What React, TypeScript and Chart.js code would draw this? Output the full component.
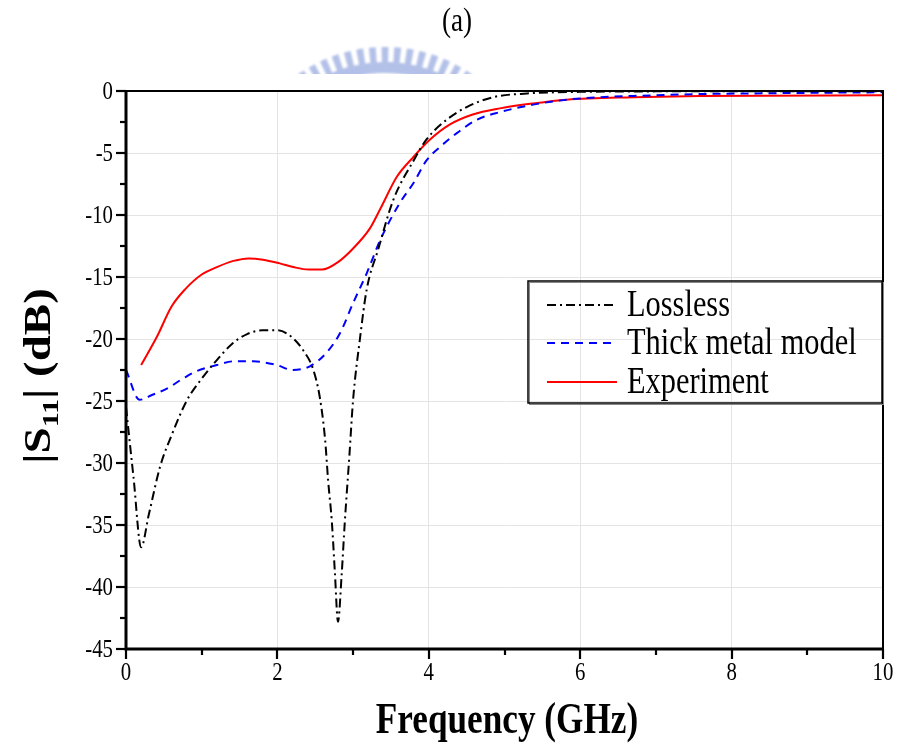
import React, { useEffect, useRef } from "react";
import { Chart, registerables } from "chart.js";

Chart.register(...registerables);

const seriesLabels = ["Lossless", "Thick metal model", "Experiment"];

const losslessF = [0, 0.1, 0.2, 0.3, 0.45, 0.6, 0.8, 1.0, 1.2, 1.4, 1.6, 1.8, 2.0, 2.2, 2.35, 2.47, 2.56, 2.63, 2.67, 2.72, 2.76, 2.8, 2.85, 2.89, 2.95, 3.0, 3.09, 3.18, 3.33, 3.53, 3.8, 3.97, 4.24, 4.5, 4.85, 5.3, 6.0, 7.0, 8.0, 10.0];
const losslessDb = [-25.5, -31.2, -36.8, -34.2, -30.3, -27.8, -25.0, -23.2, -21.7, -20.4, -19.6, -19.3, -19.3, -19.9, -21.0, -22.4, -24.7, -28.1, -31.4, -34.8, -38.9, -42.8, -38.9, -34.8, -29.5, -24.9, -20.0, -16.0, -12.8, -8.8, -5.6, -3.9, -2.3, -1.3, -0.5, -0.2, -0.07, -0.03, -0.02, -0.02];

const thickF = [0, 0.18, 0.35, 0.54, 0.75, 0.93, 1.2, 1.42, 1.68, 1.99, 2.2, 2.43, 2.65, 2.83, 3.0, 3.18, 3.36, 3.62, 3.8, 3.97, 4.15, 4.37, 4.64, 4.94, 5.38, 5.82, 6.26, 6.7, 7.58, 8.5, 10.0];
const thickDb = [-22.5, -24.9, -24.5, -24.0, -23.2, -22.6, -22.1, -21.8, -21.8, -22.1, -22.5, -22.2, -21.1, -19.5, -17.1, -14.7, -12.0, -9.0, -7.4, -5.6, -4.5, -3.4, -2.3, -1.7, -1.1, -0.7, -0.5, -0.4, -0.25, -0.18, -0.1];

const expF = [0.2, 0.41, 0.6, 0.78, 1.0, 1.2, 1.42, 1.62, 1.81, 2.03, 2.21, 2.41, 2.59, 2.8, 3.0, 3.22, 3.36, 3.58, 3.8, 4.02, 4.28, 4.58, 4.94, 5.38, 5.82, 6.7, 7.58, 10.0];
const expDb = [-22.1, -19.8, -17.4, -16.0, -14.8, -14.2, -13.7, -13.5, -13.6, -13.9, -14.2, -14.4, -14.4, -13.8, -12.7, -11.1, -9.5, -6.9, -5.3, -3.9, -2.7, -1.9, -1.4, -1.0, -0.7, -0.5, -0.4, -0.35];

const xMajorTicks = [0, 2, 4, 6, 8, 10];
const xMinorTicks = [1, 3, 5, 7, 9];
const yMajorTicks = [0, -5, -10, -15, -20, -25, -30, -35, -40, -45];
const yMinorTicks = [-2.5, -7.5, -12.5, -17.5, -22.5, -27.5, -32.5, -37.5, -42.5];

const chartTitle = "(a)";
const xTitle = "Frequency (GHz)";

const SERIF = "'Liberation Serif', 'Times New Roman', serif";
const SX = 0.8;

function toPoints(xs: number[], ys: number[]) {
  return xs.map((x, i) => ({ x, y: ys[i] }));
}

function drawText(ctx: CanvasRenderingContext2D, text: string, x: number, y: number, font: string, align: CanvasTextAlign, sx = SX) {
  ctx.save();
  ctx.translate(x, y);
  ctx.scale(sx, 1);
  ctx.font = font;
  ctx.textAlign = align;
  ctx.textBaseline = "middle";
  ctx.fillStyle = "#000";
  ctx.fillText(text, 0, 0);
  ctx.restore();
}

const styles = [
  { color: "#000000", dash: [9, 4, 2, 4] },
  { color: "#0000ff", dash: [8, 6] },
  { color: "#ff0000", dash: [] as number[] },
];

const decorPlugin = {
  id: "decor",
  beforeDraw(chart: any) {
    const ctx: CanvasRenderingContext2D = chart.ctx;
    // watermark logo (faint)
    ctx.save();
    ctx.beginPath();
    ctx.rect(280, 30, 220, 44);
    ctx.clip();
    (ctx as any).filter = "blur(1px)";
    const cx = 385, cy = 199;
    ctx.fillStyle = "#b3c0e8";
    ctx.beginPath();
    ctx.arc(cx, cy, 137, Math.PI * 1.2, Math.PI * 1.8);
    ctx.arc(cx, cy, 126, Math.PI * 1.8, Math.PI * 1.2, true);
    ctx.closePath();
    ctx.fill();
    for (let i = -7; i <= 7; i++) {
      const a = -Math.PI / 2 + i * (4.8 * Math.PI / 180);
      const w = 2.6 * Math.PI / 180;
      ctx.beginPath();
      ctx.arc(cx, cy, 152, a - w / 2, a + w / 2);
      ctx.arc(cx, cy, 134, a + w / 2, a - w / 2, true);
      ctx.closePath();
      ctx.fill();
    }
    ctx.restore();
  },
  afterDraw(chart: any) {
    const ctx: CanvasRenderingContext2D = chart.ctx;
    const xs = chart.scales.x;
    const ys = chart.scales.y;
    const a = chart.chartArea;
    ctx.save();
    ctx.strokeStyle = "#000";
    ctx.lineCap = "butt";
    // frame
    ctx.lineWidth = 2;
    ctx.beginPath();
    ctx.moveTo(a.left, a.top);
    ctx.lineTo(a.right, a.top);
    ctx.lineTo(a.right, a.bottom);
    ctx.stroke();
    ctx.lineWidth = 3;
    ctx.beginPath();
    ctx.moveTo(a.left, a.top - 1);
    ctx.lineTo(a.left, a.bottom);
    ctx.lineTo(a.right + 1, a.bottom);
    ctx.stroke();
    // ticks
    ctx.lineWidth = 2.2;
    for (const v of yMajorTicks) {
      const p = Math.round(ys.getPixelForValue(v));
      ctx.beginPath(); ctx.moveTo(a.left, p); ctx.lineTo(a.left - 10, p); ctx.stroke();
    }
    for (const v of yMinorTicks) {
      const p = Math.round(ys.getPixelForValue(v));
      ctx.beginPath(); ctx.moveTo(a.left, p); ctx.lineTo(a.left - 6, p); ctx.stroke();
    }
    for (const v of xMajorTicks) {
      const p = Math.round(xs.getPixelForValue(v));
      ctx.beginPath(); ctx.moveTo(p, a.bottom); ctx.lineTo(p, a.bottom + 10); ctx.stroke();
    }
    for (const v of xMinorTicks) {
      const p = Math.round(xs.getPixelForValue(v));
      ctx.beginPath(); ctx.moveTo(p, a.bottom); ctx.lineTo(p, a.bottom + 6); ctx.stroke();
    }
    ctx.restore();

    // tick labels
    const tickFont = `26px ${SERIF}`;
    for (const v of yMajorTicks) {
      drawText(ctx, String(v), a.left - 13, ys.getPixelForValue(v) + 1, tickFont, "right");
    }
    for (const v of xMajorTicks) {
      drawText(ctx, String(v), xs.getPixelForValue(v), a.bottom + 24, tickFont, "center");
    }

    // titles
    drawText(ctx, chartTitle, 457, 22, `34px ${SERIF}`, "center");
    drawText(ctx, xTitle, 507, 722, `bold 44px ${SERIF}`, "center");

    // y title with subscript, rotated
    ctx.save();
    ctx.translate(38, 376);
    ctx.rotate(-Math.PI / 2);
    ctx.scale(1, SX);
    ctx.fillStyle = "#000";
    ctx.textBaseline = "alphabetic";
    ctx.textAlign = "left";
    const big = `bold 47px ${SERIF}`;
    const small = `bold 30px ${SERIF}`;
    const parts: [string, string, number][] = [["|S", big, 0], ["11", small, 10], ["| (dB)", big, 0]];
    let total = 0;
    for (const [t, f] of parts) { ctx.font = f; total += ctx.measureText(t).width; }
    let px = -total / 2;
    for (const [t, f, dy] of parts) {
      ctx.font = f;
      ctx.fillText(t, px, 15 + dy);
      px += ctx.measureText(t).width;
    }
    ctx.restore();

    // legend
    ctx.save();
    const bx = 528, by = 281, bw = 354, bh = 122;
    ctx.strokeStyle = "#888";
    ctx.lineWidth = 1;
    ctx.strokeRect(bx + 1.5, by + 1.5, bw, bh);
    ctx.strokeStyle = "#000";
    ctx.lineWidth = 1.5;
    ctx.strokeRect(bx, by, bw, bh);
    const rows = [305, 343, 382];
    chart.data.datasets.forEach((ds: any, i: number) => {
      const yy = rows[i];
      ctx.save();
      ctx.strokeStyle = styles[i].color;
      ctx.lineWidth = 2;
      ctx.setLineDash(styles[i].dash);
      ctx.beginPath();
      ctx.moveTo(547, yy);
      ctx.lineTo(617, yy);
      ctx.stroke();
      ctx.restore();
      drawText(ctx, ds.label, 627, yy + 1, `38px ${SERIF}`, "left");
    });
    ctx.restore();
  },
};

export default function App() {
  const ref = useRef<HTMLCanvasElement | null>(null);
  useEffect(() => {
    if (!ref.current) return;
    const chart = new Chart(ref.current, {
      type: "line",
      data: {
        datasets: [
          { label: seriesLabels[0], data: toPoints(losslessF, losslessDb) },
          { label: seriesLabels[1], data: toPoints(thickF, thickDb) },
          { label: seriesLabels[2], data: toPoints(expF, expDb) },
        ].map((d, i) => ({
          ...d,
          borderColor: styles[i].color,
          borderDash: styles[i].dash,
          borderWidth: 2,
          pointRadius: 0,
          fill: false,
          cubicInterpolationMode: "monotone" as const,
        })),
      },
      options: {
        responsive: false,
        animation: false,
        devicePixelRatio: 1,
        layout: { padding: { left: 126, top: 91, right: 17, bottom: 100 } },
        plugins: { legend: { display: false }, tooltip: { enabled: false }, title: { display: false } },
        scales: {
          x: {
            type: "linear",
            min: 0,
            max: 10,
            ticks: { display: false, stepSize: 2 },
            grid: { color: "#e4e4e4", lineWidth: 1, drawTicks: false },
            border: { display: false },
            afterFit: (s: any) => { s.height = 0; },
          },
          y: {
            type: "linear",
            min: -45,
            max: 0,
            ticks: { display: false, stepSize: 5 },
            grid: { color: "#e4e4e4", lineWidth: 1, drawTicks: false },
            border: { display: false },
            afterFit: (s: any) => { s.width = 0; },
          },
        },
      },
      plugins: [decorPlugin],
    });
    return () => chart.destroy();
  }, []);
  return (
    <div style={{ position: "absolute", left: 0, top: 0, width: 900, height: 749, background: "#fff" }}>
      <canvas ref={ref} width={900} height={749} style={{ display: "block" }} />
    </div>
  );
}
